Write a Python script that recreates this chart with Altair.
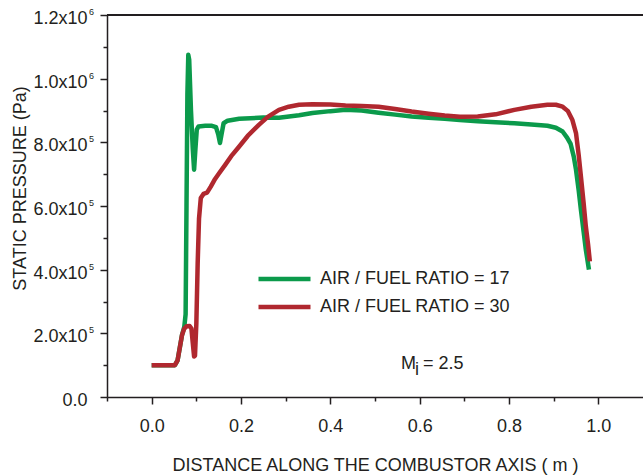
import altair as alt
import pandas as pd

# ---- data (pressure in units of 1e5 Pa) ----
X_RED = [0.0, 0.03, 0.052, 0.058, 0.063, 0.068, 0.073, 0.078, 0.085, 0.089, 0.092, 0.095, 0.097,
         0.100, 0.103, 0.106, 0.110, 0.116, 0.124, 0.132, 0.142, 0.151, 0.165, 0.18, 0.196, 0.215,
         0.24, 0.26, 0.285, 0.307, 0.33, 0.36, 0.40, 0.434, 0.47, 0.508, 0.545, 0.582, 0.62, 0.656,
         0.69, 0.73, 0.77, 0.812, 0.85, 0.886, 0.905, 0.92, 0.932, 0.942, 0.950, 0.956, 0.961,
         0.967, 0.972, 0.977, 0.981]
P_RED = [1.0, 1.0, 1.0, 1.15, 1.55, 1.95, 2.15, 2.22, 2.23, 2.15, 1.7, 1.27, 1.3,
         2.3, 4.2, 5.6, 6.25, 6.38, 6.42, 6.6, 6.85, 7.03, 7.3, 7.6, 7.87, 8.2,
         8.55, 8.8, 9.02, 9.12, 9.18, 9.2, 9.19, 9.16, 9.14, 9.12, 9.05, 8.97, 8.9, 8.84,
         8.8, 8.81, 8.88, 9.02, 9.12, 9.18, 9.18, 9.12, 8.98, 8.7, 8.29, 7.6, 6.93,
         6.1, 5.36, 4.8, 4.26]

X_GREEN = [0.0, 0.03, 0.052, 0.058, 0.063, 0.068, 0.073, 0.076, 0.078, 0.080, 0.082, 0.084,
           0.088, 0.092, 0.095, 0.098, 0.101, 0.105, 0.12, 0.135, 0.144, 0.149, 0.153, 0.157,
           0.161, 0.17, 0.196, 0.25, 0.285, 0.33, 0.36, 0.40, 0.434, 0.47, 0.508, 0.545, 0.582,
           0.62, 0.656, 0.69, 0.73, 0.77, 0.812, 0.85, 0.886, 0.905, 0.92, 0.93, 0.938, 0.945,
           0.950, 0.956, 0.961, 0.967, 0.972, 0.979]
P_GREEN = [1.0, 1.0, 1.0, 1.15, 1.55, 1.95, 2.2, 2.6, 6.0, 9.5, 10.75, 10.6,
           9.0, 7.8, 7.14, 7.8, 8.4, 8.5, 8.52, 8.52, 8.48, 8.25, 7.98, 8.3,
           8.6, 8.68, 8.74, 8.78, 8.77, 8.85, 8.92, 8.98, 9.02, 9.0, 8.93, 8.87, 8.81,
           8.77, 8.74, 8.7, 8.66, 8.63, 8.6, 8.56, 8.52, 8.46, 8.34, 8.15, 7.95, 7.55,
           7.14, 6.5, 5.88, 5.2, 4.63, 4.0]

SERIES = ["AIR / FUEL RATIO = 17", "AIR / FUEL RATIO = 30"]
COLORS = ["#0b9a4b", "#b0282f"]

X_MAJOR = [0.0, 0.2, 0.4, 0.6, 0.8, 1.0]
X_MINOR = [-0.1, 0.1, 0.3, 0.5, 0.7, 0.9]
Y_MAJOR = [0, 200000, 400000, 600000, 800000, 1000000, 1200000]
Y_MINOR = [100000, 300000, 500000, 700000, 900000, 1100000]
# powers of ten shown as raised exponents next to the y tick labels
Y_EXP_VALUES = [200000, 400000, 600000, 800000, 1000000, 1200000]
Y_EXP_TEXT = ["5", "5", "5", "5", "6", "6"]

X_TITLE = "DISTANCE ALONG THE COMBUSTOR AXIS ( m )"
Y_TITLE = "STATIC PRESSURE (Pa)"
NOTE_X = [0.558]
NOTE_Y = [88000]
NOTE_MAIN = "M"
NOTE_SUB = "i"
NOTE_REST = "= 2.5"

X_DOMAIN = [-0.1, 1.1]
Y_DOMAIN = [0, 1200000]

rows = []
for k, (xs_, ps_) in enumerate([(X_GREEN, P_GREEN), (X_RED, P_RED)]):
    for i, (x, p) in enumerate(zip(xs_, ps_)):
        rows.append({"x": x, "p": p * 1e5, "series": SERIES[k], "i": i})
df = pd.DataFrame(rows)
note_df = pd.DataFrame({"x": NOTE_X, "y": NOTE_Y})
exp_df = pd.DataFrame({"v": Y_EXP_VALUES, "e": Y_EXP_TEXT})

FONT = "Liberation Sans"
INK = "#231f20"

xs = alt.Scale(domain=X_DOMAIN, nice=False, zero=False)
ys = alt.Scale(domain=Y_DOMAIN, nice=False)

y_label_expr = ("datum.value == 0 ? '0.0' : (datum.value < 1000000 ? "
                "format(datum.value / 100000, '.1f') + 'x10' : "
                "format(datum.value / 1000000, '.1f') + 'x10')")

x_major = alt.Axis(values=X_MAJOR, format=".1f", title=X_TITLE, orient="bottom",
                   tickSize=7, labelPadding=27, labelBaseline="alphabetic",
                   titleY=73, titleBaseline="alphabetic")
y_major = alt.Axis(values=Y_MAJOR, labelExpr=y_label_expr, title=Y_TITLE, orient="left",
                   tickSize=7, labelPadding=13, labelBaseline="alphabetic", labelOffset=8.5,
                   titleX=-82, titleY=173, titleBaseline="alphabetic", titleAngle=-90,
                   titleAlign="center")
x_minor = alt.Axis(values=X_MINOR, labels=False, title=None, domain=False,
                   tickSize=4, orient="bottom")
y_minor = alt.Axis(values=Y_MINOR, labels=False, title=None, domain=False,
                   tickSize=4, orient="left")

legend = alt.Legend(orient="none", legendX=168.5, legendY=255, title=None,
                    symbolType="M-4,0H4", symbolSize=169, symbolStrokeWidth=4.5,
                    labelFontSize=18, labelFont=FONT, labelColor=INK, labelOffset=26.5,
                    labelLimit=400, rowPadding=10, padding=0, symbolOpacity=1)

lines = alt.Chart(df).mark_line(strokeWidth=4.5, strokeJoin="round").encode(
    x=alt.X("x:Q", scale=xs, axis=x_major),
    y=alt.Y("p:Q", scale=ys, axis=y_major),
    color=alt.Color("series:N", scale=alt.Scale(domain=SERIES, range=COLORS), legend=legend),
    order="i:Q",
)

minor = alt.Chart(df).mark_line(opacity=0).encode(
    x=alt.X("x:Q", scale=xs, axis=x_minor),
    y=alt.Y("p:Q", scale=ys, axis=y_minor),
    detail="series:N",
)

frame = alt.Chart(df).mark_rule(color=INK, strokeWidth=1.5).encode(
    y=alt.YDatum(Y_DOMAIN[1], axis=None),
)

exps = alt.Chart(exp_df).mark_text(font=FONT, fontSize=9, color=INK, align="left",
                                   baseline="alphabetic").encode(
    x=alt.value(-18),
    y=alt.Y("v:Q", scale=ys, axis=None),
    text="e:N",
)


def note_part(text, dx, dy):
    return alt.Chart(note_df).mark_text(font=FONT, fontSize=18, color=INK, align="left",
                                        baseline="alphabetic", dx=dx, dy=dy,
                                        text=text).encode(
        x=alt.X("x:Q", scale=xs, axis=None),
        y=alt.Y("y:Q", scale=ys, axis=None),
    )


note = note_part(NOTE_MAIN, 0, 0) + note_part(NOTE_SUB, 14, 6) + note_part(NOTE_REST, 22, 0)

chart = alt.layer(lines, minor, frame, exps, note).resolve_axis(
    x="independent", y="independent"
).properties(
    width=536, height=382,
    padding={"left": 107, "top": 15, "right": 0, "bottom": 78},
    autosize="none",
).configure_view(stroke=None).configure_axis(
    labelFont=FONT, titleFont=FONT, labelColor=INK, titleColor=INK,
    domainColor=INK, tickColor=INK, grid=False, labelFontSize=18, titleFontSize=18,
    titleFontWeight="normal", domainWidth=1.5, tickWidth=1.5,
)

chart.save("out.html", embed_options={"renderer": "svg", "actions": False})
